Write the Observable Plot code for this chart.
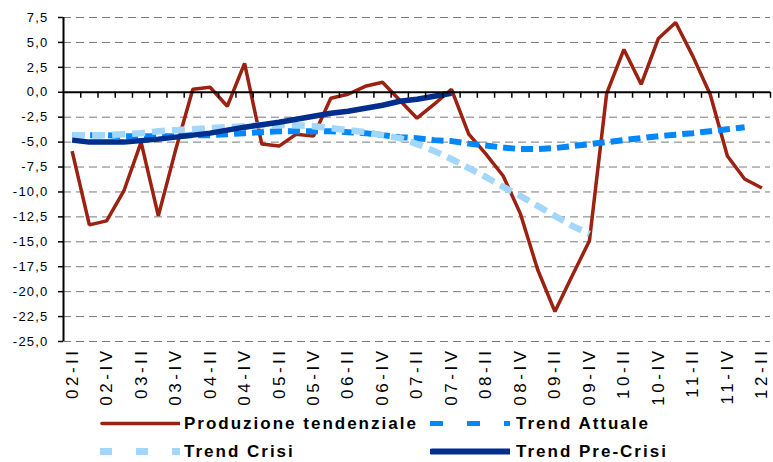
<!DOCTYPE html>
<html><head><meta charset="utf-8">
<script src="https://cdn.jsdelivr.net/npm/d3@7"></script>
<script src="https://cdn.jsdelivr.net/npm/@observablehq/plot@0.6"></script>
<style>
body{margin:0;background:#fff;}
#chart{width:773px;height:410px;}
#chart svg g[aria-label="x-axis tick label"] text{letter-spacing:3.5px;}
#chart svg g[aria-label="y-axis tick label"] text{letter-spacing:1.2px;}
.legend{position:relative;width:773px;height:52px;font-family:"Liberation Sans",Arial,sans-serif;font-weight:bold;font-size:17px;letter-spacing:2px;color:#000;}
.sw{position:absolute;width:80px;height:27px;}
.lt{position:absolute;height:27px;line-height:27px;white-space:nowrap;}
</style></head><body>
<div id="chart"></div>
<div class="legend" id="legend"></div>
<script>
const quarters = ["02-II","02-III","02-IV","03-I","03-II","03-III","03-IV","04-I","04-II","04-III","04-IV",
  "05-I","05-II","05-III","05-IV","06-I","06-II","06-III","06-IV","07-I","07-II","07-III","07-IV",
  "08-I","08-II","08-III","08-IV","09-I","09-II","09-III","09-IV","10-I","10-II","10-III","10-IV",
  "11-I","11-II","11-III","11-IV","12-I","12-II"];
const produzione = [-5.9,-13.3,-12.9,-9.9,-5.0,-12.4,-5.8,0.3,0.5,-1.4,2.9,
  -5.2,-5.4,-4.2,-4.4,-0.6,-0.2,0.6,1.0,-0.8,-2.6,-1.2,0.3,
  -4.2,-6.2,-8.4,-12.2,-17.8,-22.0,-18.4,-14.9,-0.1,4.3,0.8,5.4,
  7.0,3.6,-0.2,-6.4,-8.7,-9.6];
const trendAttuale = [-4.3,-4.3,-4.3,-4.4,-4.4,-4.4,-4.4,-4.3,-4.3,-4.2,-4.1,
  -4.0,-3.9,-3.9,-3.9,-3.9,-4.0,-4.1,-4.3,-4.5,-4.6,-4.8,-4.9,
  -5.15,-5.35,-5.55,-5.7,-5.7,-5.6,-5.4,-5.2,-5.0,-4.8,-4.6,-4.4,
  -4.25,-4.1,-3.9,-3.7,-3.5];
const trendCrisi = [-4.3,-4.3,-4.3,-4.2,-4.1,-3.9,-3.8,-3.7,-3.6,-3.5,-3.4,
  -3.3,-3.3,-3.3,-3.4,-3.6,-3.8,-4.0,-4.3,-4.6,-5.2,-5.9,-6.7,
  -7.6,-8.5,-9.5,-10.4,-11.4,-12.4,-13.4,-14.2];
const trendPreCrisi = [-4.8,-5.0,-5.0,-5.0,-4.85,-4.7,-4.5,-4.3,-4.1,-3.8,-3.5,
  -3.25,-3.0,-2.7,-2.4,-2.1,-1.9,-1.6,-1.3,-0.9,-0.7,-0.4,-0.1];
const yTicks = [-25,-22.5,-20,-17.5,-15,-12.5,-10,-7.5,-5,-2.5,0,2.5,5,7.5];

const seriesNames = ["Produzione tendenziale","Trend Attuale","Trend Crisi","Trend Pre-Crisi"];
const styles = {
  "Produzione tendenziale": {stroke:"#9b2211", strokeWidth:3.5, dash:null},
  "Trend Attuale": {stroke:"#0088fa", strokeWidth:6, dash:"12,6"},
  "Trend Crisi": {stroke:"#a3d6fb", strokeWidth:6.5, dash:"13,7"},
  "Trend Pre-Crisi": {stroke:"#002e8c", strokeWidth:5.5, dash:null}
};
const rows = (arr) => arr.map((v, i) => ({x: i + 0.5, v, q: quarters[i]}));
const data = {
  "Produzione tendenziale": rows(produzione),
  "Trend Attuale": rows(trendAttuale),
  "Trend Crisi": rows(trendCrisi),
  "Trend Pre-Crisi": rows(trendPreCrisi)
};
const labelTicks = quarters.map((q, i) => i).filter(i => i % 2 === 0).map(i => i + 0.5);
const boundaries = quarters.map((q, i) => i + 1);
const fmt = d => d.toFixed(1).replace(".", ",");

const lineMarks = seriesNames.map(name => Plot.line(data[name], {
  x: "x", y: "v",
  stroke: styles[name].stroke,
  strokeWidth: styles[name].strokeWidth,
  strokeDasharray: styles[name].dash || undefined,
  strokeLinejoin: name === "Produzione tendenziale" ? "miter" : "round",
  strokeLinecap: "butt"
}));

const chart = Plot.plot({
  width: 773,
  height: 410,
  marginLeft: 63,
  marginRight: 3,
  marginTop: 17,
  marginBottom: 69,
  style: {fontFamily: "'Liberation Sans', Arial, sans-serif", background: "#fff", color: "#000"},
  x: {type: "linear", domain: [0, quarters.length]},
  y: {domain: [-25, 7.5]},
  marks: [
    Plot.gridY(yTicks.filter(d => d !== 0), {stroke: "#7a7a7a", strokeOpacity: 1, strokeDasharray: "8,5", strokeWidth: 1}),
    ...lineMarks,
    Plot.ruleY([0], {stroke: "#000", strokeWidth: 2}),
    Plot.ruleX(boundaries, {y1: 0, y2: 0, insetBottom: -6, stroke: "#000", strokeWidth: 1.5}),
    Plot.ruleX([0], {stroke: "#000", strokeWidth: 2}),
    Plot.axisY(yTicks, {tickSize: 5, tickPadding: 10, tickFormat: fmt, fontSize: 13, label: null, strokeWidth: 1.5}),
    Plot.axisX(labelTicks, {tickSize: 0, tickPadding: 6, tickRotate: -90, tickFormat: d => quarters[d - 0.5], fontSize: 17, label: null})
  ]
});
document.getElementById("chart").appendChild(chart);

// legend
const legend = document.getElementById("legend");
const legendPos = [
  {name: "Produzione tendenziale", sx: 100, tx: 184, top: 0},
  {name: "Trend Attuale", sx: 430, tx: 516, top: 0},
  {name: "Trend Crisi", sx: 100, tx: 184, top: 28},
  {name: "Trend Pre-Crisi", sx: 430, tx: 516, top: 28}
];
const legendDash = {"Trend Attuale": {dash: "13,24", w: 5}, "Trend Crisi": {dash: "12,24", w: 7}};
legendPos.forEach(p => {
  const st = styles[p.name];
  const sw = document.createElementNS("http://www.w3.org/2000/svg", "svg");
  sw.setAttribute("class", "sw");
  sw.setAttribute("width", 84);
  sw.setAttribute("height", 27);
  sw.style.left = p.sx + "px";
  sw.style.top = p.top + "px";
  const ln = document.createElementNS("http://www.w3.org/2000/svg", "line");
  const dashed = legendDash[p.name];
  ln.setAttribute("y1", 13.5); ln.setAttribute("y2", 13.5);
  if (dashed) {
    ln.setAttribute("x1", 0); ln.setAttribute("x2", 83);
    ln.setAttribute("stroke-dasharray", dashed.dash);
    ln.setAttribute("stroke-width", dashed.w);
  } else {
    ln.setAttribute("x1", 2); ln.setAttribute("x2", 81);
    ln.setAttribute("stroke-linecap", "round");
    ln.setAttribute("stroke-width", p.name === "Trend Pre-Crisi" ? 6 : 3.5);
  }
  ln.setAttribute("stroke", st.stroke);
  sw.appendChild(ln);
  legend.appendChild(sw);
  const t = document.createElement("div");
  t.className = "lt";
  t.style.left = p.tx + "px";
  t.style.top = p.top + "px";
  t.textContent = p.name;
  legend.appendChild(t);
});
</script>
</body></html>
